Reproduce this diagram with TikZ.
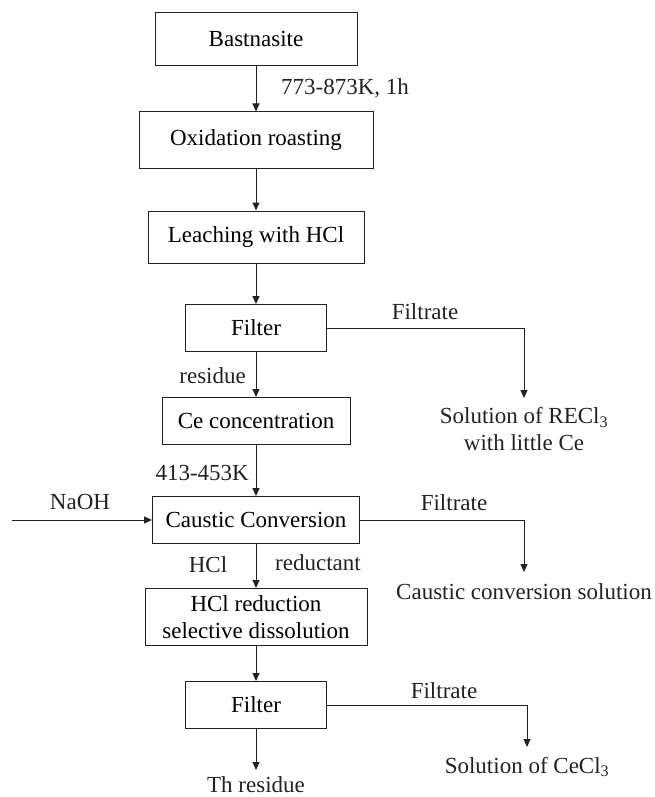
\documentclass[tikz,border=0pt]{standalone}
\usepackage{fontspec}
\setmainfont{Liberation Serif}
\usetikzlibrary{arrows.meta}
\definecolor{flowfg}{HTML}{222222}

\begin{document}
\begin{tikzpicture}[x=1pt,y=-1pt,>={Triangle[length=8pt,width=7pt]},font=\fontsize{23}{27}\selectfont]
  \tikzstyle{stage}=[draw=flowfg, line width=1pt, inner sep=0pt, align=center]
  \tikzstyle{flow}=[->, draw=flowfg, line width=1pt]
  \tikzstyle{label}=[text=flowfg, inner sep=1pt, align=center]

  \path[use as bounding box] (0,0) rectangle (654,797);

  % Main route: roasting, leaching and Ce concentration.
  \node[stage, minimum width=202, minimum height=53] (bast) at (256,39) {Bastnasite};
  \node[stage, minimum width=234, minimum height=56] (oxid) at (256,140) {Oxidation roasting};
  \node[stage, minimum width=216, minimum height=52] (leach) at (256,237) {Leaching with HCl};
  \node[stage, minimum width=141, minimum height=47] (filterA) at (256,328) {Filter};
  \node[stage, minimum width=188, minimum height=47] (conc) at (256,421) {Ce concentration};
  \node[stage, minimum width=207, minimum height=47] (caustic) at (256,520) {Caustic Conversion};
  \node[stage, minimum width=222, minimum height=57] (reduce) at (256,617) {HCl reduction\\selective dissolution};
  \node[stage, minimum width=141, minimum height=47] (filterB) at (256,705) {Filter};

  \draw[flow] (bast) -- (oxid);
  \draw[flow] (oxid) -- (leach);
  \draw[flow] (leach) -- (filterA);
  \draw[flow] (filterA) -- (conc);
  \draw[flow] (conc) -- (caustic);
  \draw[flow] (caustic) -- (reduce);
  \draw[flow] (reduce) -- (filterB);

  \node[label, anchor=west] (roastcond) at (280,88) {773-873K, 1h};
  \node[label, anchor=east] (residue) at (247,376) {residue};
  \node[label, anchor=east] (causticcond) at (250,473) {413-453K};
  \node[label] (hcl) at (208,565) {HCl};
  \node[label, anchor=west] (reductant) at (274,563) {reductant};

  % NaOH feed into the caustic conversion.
  \coordinate (naoh) at (12,520);
  \node[label] (naohlab) at (80,502) {NaOH};
  \draw[flow] (naoh) -- (caustic.west);

  % Filtrate branches to the right.
  \coordinate (receend) at (524,398);
  \node[label, anchor=north] (rece) at (524,406) {Solution of RECl\textsubscript{3}\\with little Ce};
  \draw[flow] (filterA.east) -| (receend);
  \node[label] (filtrateA) at (425,312) {Filtrate};

  \coordinate (causend) at (524,572);
  \node[label] (caussol) at (524,592) {Caustic conversion solution};
  \draw[flow] (caustic.east) -| (causend);
  \node[label] (filtrateB) at (454,503) {Filtrate};

  \coordinate (ceclend) at (527,747);
  \node[label] (cecl) at (527,767) {Solution of CeCl\textsubscript{3}};
  \draw[flow] (filterB.east) -| (ceclend);
  \node[label] (filtrateC) at (444,691) {Filtrate};

  % Thorium residue.
  \coordinate (thend) at (256,770);
  \node[label] (thres) at (256,785) {Th residue};
  \draw[flow] (filterB) -- (thend);
\end{tikzpicture}
\end{document}
